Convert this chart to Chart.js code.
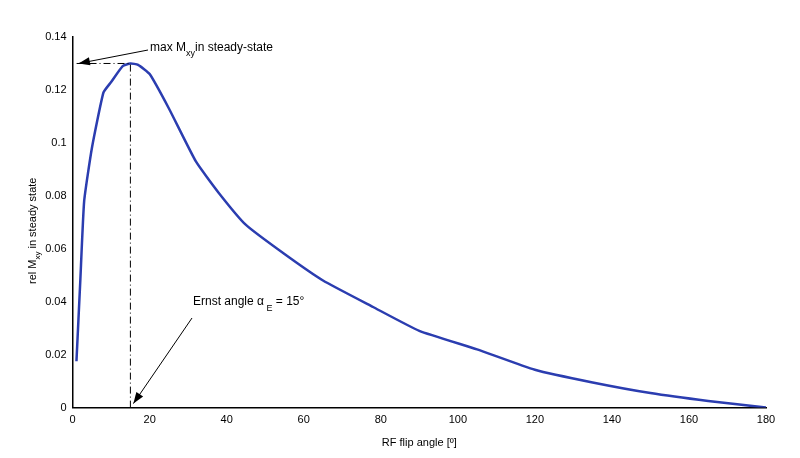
<!DOCTYPE html>
<html><head><meta charset="utf-8">
<script src="https://cdn.jsdelivr.net/npm/chart.js@4/dist/chart.umd.min.js"></script>
<style>body{margin:0;background:#fff}#wrap{width:800px;height:458px}</style>
</head><body><div id="wrap"><canvas id="c"></canvas></div>
<script>
const flipAngles = [1, 2, 3, 5, 8, 10, 13, 15, 17, 20, 25, 32, 38, 45, 55, 65, 78, 90, 105, 120, 135, 150, 165, 180];
const relMxy = [0.0175, 0.048, 0.078, 0.098, 0.119, 0.123, 0.129, 0.130, 0.1295, 0.126, 0.113, 0.093, 0.081, 0.069, 0.058, 0.048, 0.038, 0.029, 0.022, 0.0143, 0.0095, 0.0055, 0.0025, 0];
const xTicks = [0, 20, 40, 60, 80, 100, 120, 140, 160, 180];
const yTicks = [0, 0.02, 0.04, 0.06, 0.08, 0.1, 0.12, 0.14];
const ernstAngle = 15, maxValue = 0.130;

function arrow(ctx, x1, y1, x2, y2) {
  ctx.beginPath(); ctx.moveTo(x1, y1); ctx.lineTo(x2, y2); ctx.stroke();
  const a = Math.atan2(y2 - y1, x2 - x1), L = 12, w = 0.35;
  ctx.beginPath(); ctx.moveTo(x2, y2);
  ctx.lineTo(x2 - L * Math.cos(a - w), y2 - L * Math.sin(a - w));
  ctx.lineTo(x2 - L * Math.cos(a + w), y2 - L * Math.sin(a + w));
  ctx.closePath(); ctx.fill();
}

// draws runs of [text, size, dy] one after another
function runs(ctx, x, y, parts) {
  for (const [t, s, dy] of parts) {
    ctx.font = s + 'px "Liberation Sans", Arial';
    ctx.fillText(t, x, y + dy);
    x += ctx.measureText(t).width;
  }
}

const notes = {
  id: 'notes',
  afterDatasetsDraw(chart) {
    const {ctx, scales: {x, y}} = chart;
    const px = x.getPixelForValue(ernstAngle), py = y.getPixelForValue(maxValue);
    ctx.save();
    ctx.strokeStyle = '#000'; ctx.fillStyle = '#000'; ctx.lineWidth = 1;
    ctx.setLineDash([7, 3, 1, 3]);
    ctx.beginPath(); ctx.moveTo(px, y.getPixelForValue(0)); ctx.lineTo(px, py); ctx.lineTo(x.left + 4, py); ctx.stroke();
    ctx.setLineDash([]);
    arrow(ctx, 148, 50, x.left + 6, py);
    arrow(ctx, 192, 318, px + 3, y.getPixelForValue(0) - 4);
    ctx.textBaseline = 'alphabetic';
    runs(ctx, 150, 51, [['max M', 12, 0], ['xy', 9, 5], ['in steady-state', 12, 0]]);
    runs(ctx, 193, 305, [['Ernst angle \u03b1', 12, 0], [' E', 9, 6], [' = 15\u00b0', 12, 0]]);
    // y axis title
    ctx.translate(36, 222); ctx.rotate(-Math.PI / 2);
    runs(ctx, -62, 0, [['rel M', 11, 0], ['xy', 8, 4], [' in steady state', 11, 0]]);
    ctx.restore();
  }
};

new Chart(document.getElementById('c'), {
  type: 'line',
  data: { datasets: [{
    data: flipAngles.map((a, i) => ({x: a, y: relMxy[i]})),
    borderColor: '#2b3db0', borderWidth: 2.5, pointRadius: 0, tension: 0.15, fill: false
  }]},
  options: {
    responsive: true, maintainAspectRatio: false, animation: false,
    layout: { padding: { left: 18, right: 34, top: 37, bottom: 4 } },
    plugins: { legend: { display: false }, tooltip: { enabled: false } },
    scales: {
      x: {
        type: 'linear', min: 0, max: 180,
        afterBuildTicks: s => { s.ticks = xTicks.map(v => ({value: v})); },
        grid: { display: false, drawTicks: false },
        border: { color: '#000', width: 1.5 },
        ticks: { color: '#000', font: { size: 11, family: 'Liberation Sans' }, padding: 6 },
        title: { display: true, text: 'RF flip angle [\u00ba]', color: '#000', font: { size: 11, family: 'Liberation Sans' } }
      },
      y: {
        min: 0, max: 0.14,
        afterBuildTicks: s => { s.ticks = yTicks.map(v => ({value: v})); },
        grid: { display: false, drawTicks: false },
        border: { color: '#000', width: 1.5 },
        ticks: { color: '#000', font: { size: 11, family: 'Liberation Sans' }, padding: 6,
          callback: v => +v.toFixed(2) + '' },
        title: { display: true, text: ' ', font: { size: 11 } }
      }
    }
  },
  plugins: [notes]
});
</script></body></html>
